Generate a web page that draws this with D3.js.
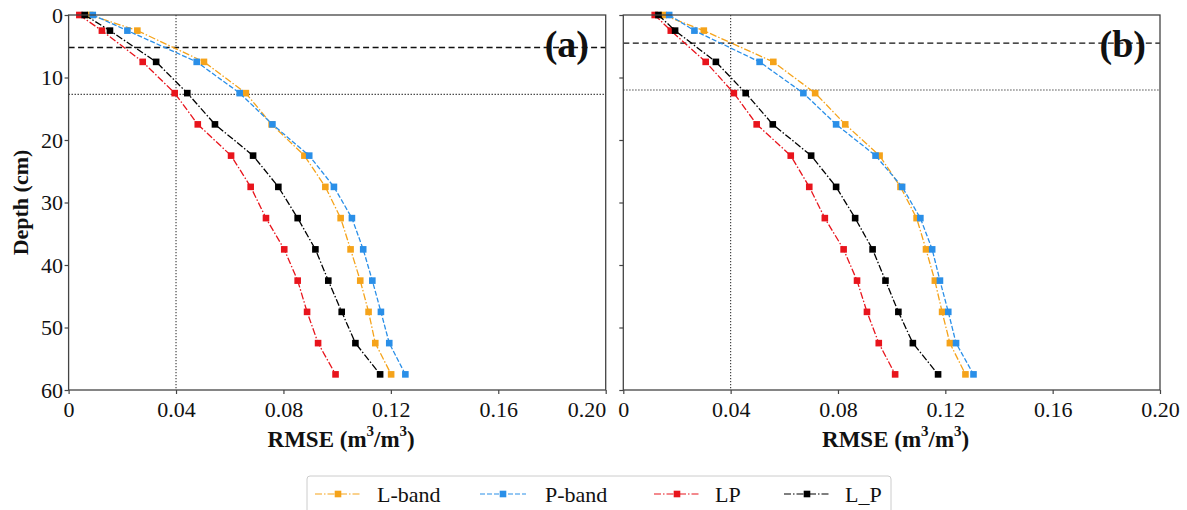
<!DOCTYPE html>
<html>
<head>
<meta charset="utf-8">
<script src="https://cdn.jsdelivr.net/npm/d3@7"></script>
<style>
  html, body { margin: 0; padding: 0; background: #fff; }
  svg { display: block; }
  text { font-family: "Liberation Serif", "Times New Roman", serif; fill: #111; }
</style>
</head>
<body>
<svg id="chart" width="1187" height="510"></svg>
<script>
// ---- data ----
const depths = [0, 2.5, 7.5, 12.5, 17.5, 22.5, 27.5, 32.5, 37.5, 42.5, 47.5, 52.5, 57.5];

const seriesNames = ["L-band", "P-band", "LP", "L_P"];

// panel (a)
const aLband = [0.008, 0.0256, 0.0504, 0.0660, 0.0756, 0.0878, 0.0956, 0.1013, 0.1050, 0.1086, 0.1117, 0.1142, 0.1201];
const aPband = [0.009, 0.0219, 0.0477, 0.0637, 0.0759, 0.0896, 0.0988, 0.1055, 0.1097, 0.1131, 0.1163, 0.1194, 0.1254];
const aLP    = [0.004, 0.0124, 0.0276, 0.0395, 0.0481, 0.0605, 0.0678, 0.0735, 0.0803, 0.0853, 0.0888, 0.0929, 0.0994];
const aL_P   = [0.006, 0.0154, 0.0326, 0.0442, 0.0545, 0.0687, 0.0781, 0.0853, 0.0919, 0.0967, 0.1017, 0.1068, 0.1160];

// panel (b)
const bLband = [0.0150, 0.0300, 0.0559, 0.0715, 0.0827, 0.0955, 0.1033, 0.1093, 0.1128, 0.1161, 0.1188, 0.1217, 0.1275];
const bPband = [0.0171, 0.0265, 0.0508, 0.0671, 0.0793, 0.0940, 0.1039, 0.1107, 0.1151, 0.1180, 0.1211, 0.1240, 0.1305];
const bLP    = [0.0117, 0.0177, 0.0307, 0.0412, 0.0497, 0.0624, 0.0693, 0.0751, 0.0821, 0.0871, 0.0908, 0.0952, 0.1013];
const bL_P   = [0.0131, 0.0193, 0.0345, 0.0456, 0.0557, 0.0700, 0.0793, 0.0864, 0.0929, 0.0977, 0.1025, 0.1079, 0.1173];

// reference lines
const vLine = 0.04;
const aDashed = 5.2, aDotted = 12.7;
const bDashed = 4.5, bDotted = 12.0;

const xTicks = [0, 0.04, 0.08, 0.12, 0.16, 0.20];
const xTickLabels = ["0", "0.04", "0.08", "0.12", "0.16", "0.20"];
const yTicks = [0, 10, 20, 30, 40, 50, 60];

// ---- styles ----
const FONT = '"Liberation Serif", "Times New Roman", serif';
const colors = {"L-band": "#f5a31a", "P-band": "#2a8fe8", "LP": "#e8141c", "L_P": "#000000"};
const dashes = {"L-band": "7,2,1.5,2", "P-band": "5,2", "LP": "7,2,1.5,2", "L_P": "7,2,1.5,2"};

const svg = d3.select("#chart");
const yTop = 15, yBottom = 390;
const panels = [
  {left: 68.6, right: 605.7, label: "(a)", labelRight: 589, series: [aLband, aPband, aLP, aL_P], dashed: aDashed, dotted: aDotted, yLabels: true, lastEnd: true},
  {left: 623.3, right: 1160, label: "(b)", labelRight: 1146, series: [bLband, bPband, bLP, bL_P], dashed: bDashed, dotted: bDotted, yLabels: false, lastEnd: false}
];

panels.forEach(p => {
  const x = d3.scaleLinear().domain([0, 0.20]).range([p.left, p.right]);
  const y = d3.scaleLinear().domain([0, 60]).range([yTop, yBottom]);
  const g = svg.append("g");

  // reference lines
  g.append("line").attr("x1", x(vLine)).attr("x2", x(vLine)).attr("y1", y(0)).attr("y2", y(60))
    .attr("stroke", "#333").attr("stroke-width", 1.1).attr("stroke-dasharray", "1.2,1.8");
  g.append("line").attr("x1", x(0)).attr("x2", x(0.20)).attr("y1", y(p.dotted)).attr("y2", y(p.dotted))
    .attr("stroke", "#222").attr("stroke-width", 1.1).attr("stroke-dasharray", "1.2,1.8");

  // panel label
  g.append("text").attr("x", p.labelRight).attr("y", 57).attr("text-anchor", "end")
    .style("font-family", FONT).style("font-size", "38px").style("font-weight", "bold").text(p.label);

  g.append("line").attr("x1", x(0)).attr("x2", x(0.20)).attr("y1", y(p.dashed)).attr("y2", y(p.dashed))
    .attr("stroke", "#111").attr("stroke-width", 1.3).attr("stroke-dasharray", "6,3.5");

  // series
  p.series.forEach((vals, i) => {
    const name = seriesNames[i];
    const pts = depths.map((d, k) => [vals[k], d]);
    g.append("path").datum(pts)
      .attr("fill", "none").attr("stroke", colors[name]).attr("stroke-width", 1.3)
      .attr("stroke-dasharray", dashes[name])
      .attr("d", d3.line().x(d => x(d[0])).y(d => y(d[1])));
    g.selectAll(null).data(pts).enter().append("rect")
      .attr("x", d => x(d[0]) - 3.3).attr("y", d => y(d[1]) - 3.3)
      .attr("width", 6.6).attr("height", 6.6)
      .attr("fill", colors[name]);
  });

  // frame
  g.append("rect").attr("x", p.left).attr("y", yTop).attr("width", p.right - p.left).attr("height", yBottom - yTop)
    .attr("fill", "none").attr("stroke", "#444").attr("stroke-width", 1.3);

  // axes
  const xAxis = d3.axisBottom(x).tickValues(xTicks).tickFormat((d, i) => xTickLabels[i]).tickSize(4);
  const gx = g.append("g").attr("transform", `translate(0,${yBottom})`).call(xAxis);
  const yAxis = d3.axisLeft(y).tickValues(yTicks).tickSize(4)
    .tickFormat(p.yLabels ? d3.format("d") : () => "");
  const gy = g.append("g").attr("transform", `translate(${p.left},0)`).call(yAxis);
  [gx, gy].forEach(a => {
    a.select(".domain").remove();
    a.selectAll(".tick line").attr("stroke", "#444").attr("stroke-width", 1.2);
    a.selectAll(".tick text").style("font-family", FONT).style("font-size", "22px").attr("fill", "#111");
  });
  gx.selectAll(".tick text").attr("y", 26.5).attr("dy", 0);
  if (p.lastEnd) {
    gx.selectAll(".tick text").filter((d, i) => i === xTicks.length - 1).attr("text-anchor", "end");
  }
  gy.selectAll(".tick text").attr("x", -5.5).attr("dy", "0.34em");

  // x axis title
  const t = g.append("text").attr("x", (p.left + p.right) / 2 + 4).attr("y", 447).attr("text-anchor", "middle")
    .style("font-family", FONT).style("font-size", "23px").style("font-weight", "bold");
  t.append("tspan").text("RMSE (m");
  t.append("tspan").attr("dy", -11).style("font-size", "15px").text("3");
  t.append("tspan").attr("dy", 11).text("/m");
  t.append("tspan").attr("dy", -11).style("font-size", "15px").text("3");
  t.append("tspan").attr("dy", 11).text(")");
});

// y axis title
svg.append("text").attr("transform", `translate(28,${(yTop + yBottom) / 2}) rotate(-90)`)
  .attr("text-anchor", "middle").style("font-family", FONT).style("font-size", "22px").style("font-weight", "bold").text("Depth (cm)");

// legend
const leg = svg.append("g");
leg.append("rect").attr("x", 307).attr("y", 476).attr("width", 584).attr("height", 50).attr("rx", 3)
  .attr("fill", "#fff").attr("stroke", "#ccc").attr("stroke-width", 1);
const legX = [315, 480, 654, 784];
const legTextX = [377, 545, 715, 845];
seriesNames.forEach((name, i) => {
  const lx = legX[i], ly = 494;
  leg.append("line").attr("x1", lx).attr("x2", lx + 46).attr("y1", ly).attr("y2", ly)
    .attr("stroke", colors[name]).attr("stroke-width", 1.2).attr("stroke-dasharray", dashes[name]);
  leg.append("rect").attr("x", lx + 23 - 3.3).attr("y", ly - 3.3).attr("width", 6.6).attr("height", 6.6).attr("fill", colors[name]);
  leg.append("text").attr("x", legTextX[i]).attr("y", 501.7)
    .style("font-family", FONT).style("font-size", "22px").text(name);
});
</script>
</body>
</html>
